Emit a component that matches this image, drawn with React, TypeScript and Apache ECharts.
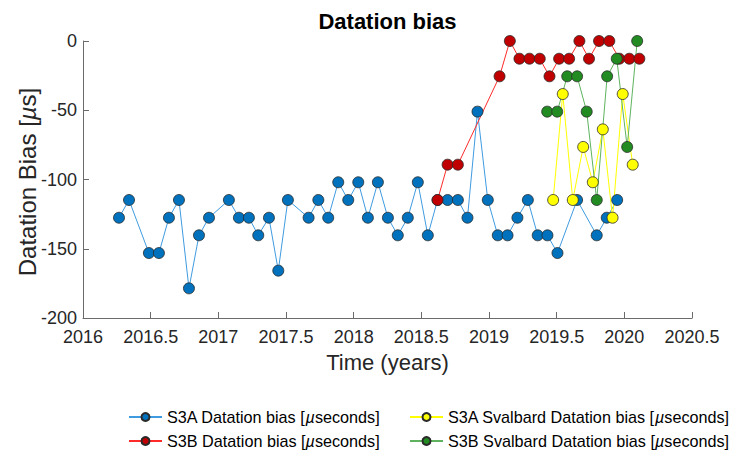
import React, { useEffect, useRef } from "react";
import * as echarts from "echarts";

const xTicks = [2016, 2016.5, 2017, 2017.5, 2018, 2018.5, 2019, 2019.5, 2020, 2020.5];
const yTicks = [-200, -150, -100, -50, 0];

const s3aDates = [
  2016.266, 2016.34, 2016.487, 2016.561, 2016.635, 2016.709, 2016.783, 2016.857, 2016.931,
  2017.078, 2017.152, 2017.226, 2017.295, 2017.374, 2017.443, 2017.514, 2017.667, 2017.739,
  2017.812, 2017.886, 2017.96, 2018.034, 2018.105, 2018.179, 2018.253, 2018.326, 2018.4,
  2018.474, 2018.548, 2018.62, 2018.694, 2018.77, 2018.841, 2018.915, 2018.991, 2019.065,
  2019.137, 2019.21, 2019.287, 2019.36, 2019.432, 2019.506, 2019.651, 2019.796, 2019.87,
  2019.947,
];
const s3aValues = [
  -127.6, -114.8, -153.1, -153.1, -127.6, -114.8, -178.6, -140.3, -127.6,
  -114.8, -127.6, -127.6, -140.3, -127.6, -165.8, -114.8, -127.6, -114.8,
  -127.6, -102.0, -114.8, -102.0, -127.6, -102.0, -127.6, -140.3, -127.6,
  -102.0, -140.3, -114.8, -114.8, -114.8, -127.6, -51.0, -114.8, -140.3,
  -140.3, -127.6, -114.8, -140.3, -140.3, -153.1, -114.8, -140.3, -127.6,
  -114.8,
];

const s3bDates = [
  2018.62, 2018.694, 2018.77, 2019.078, 2019.154, 2019.225, 2019.299, 2019.375, 2019.447,
  2019.518, 2019.592, 2019.668, 2019.739, 2019.813, 2019.889, 2019.963, 2020.037, 2020.111,
];
const s3bValues = [
  -114.8, -89.3, -89.3, -25.5, 0, -12.8, -12.8, -12.8, -25.5,
  -12.8, -12.8, 0, -12.8, 0, 0, -12.8, -12.8, -12.8,
];

const s3aSvalDates = [2019.474, 2019.545, 2019.619, 2019.696, 2019.767, 2019.841, 2019.913, 2019.988, 2020.062];
const s3aSvalValues = [-114.8, -38.3, -114.8, -76.5, -102.0, -63.8, -127.6, -38.3, -89.3];

const s3bSvalDates = [2019.43, 2019.504, 2019.578, 2019.651, 2019.722, 2019.796, 2019.873, 2019.944, 2020.021, 2020.095];
const s3bSvalValues = [-51.0, -51.0, -25.5, -25.5, -51.0, -114.8, -25.5, -12.8, -76.5, 0];

const names = [
  "S3A Datation bias [µseconds]",
  "S3B Datation bias [µseconds]",
  "S3A Svalbard Datation bias [µseconds]",
  "S3B Svalbard Datation bias [µseconds]",
];

const FONT = "'Liberation Sans', Arial, Helvetica, sans-serif";

function zip(xs: number[], ys: number[]) {
  return xs.map((x, i) => [x, ys[i]]);
}

function makeSeries(name: string, xs: number[], ys: number[], line: string, fill: string) {
  return {
    name,
    type: "line",
    data: zip(xs, ys),
    symbol: "circle",
    symbolSize: 11,
    showAllSymbol: true,
    lineStyle: { color: line, width: 1 },
    itemStyle: { color: fill, borderColor: "#2a2a2a", borderWidth: 0.8 },
    emphasis: { disabled: true },
  };
}

const LFS = 16.2;
const legendText = {
  fontSize: LFS,
  fontFamily: FONT,
  color: "#000",
  lineHeight: 18,
  rich: {
    a: { fontSize: LFS, fontFamily: FONT, color: "#000", lineHeight: 18 },
    b: { fontSize: LFS, fontFamily: FONT, color: "#000", fontStyle: "italic", lineHeight: 18 },
  },
};

function legendFormatter(name: string) {
  const parts = name.split("µ");
  return `{a|${parts[0]}}{b|µ}{a|${parts[1]}}`;
}

function makeLegend(name: string, left: number, top: number) {
  return {
    orient: "horizontal",
    left,
    top,
    itemWidth: 33,
    itemHeight: 10,
    padding: 0,
    data: [name],
    textStyle: legendText,
    formatter: legendFormatter,
    selectedMode: false,
  };
}

export default function App() {
  const ref = useRef<HTMLDivElement>(null);
  useEffect(() => {
    if (!ref.current) return;
    const chart = echarts.init(ref.current, undefined, { renderer: "svg" });
    chart.setOption({
      animation: false,
      backgroundColor: "#ffffff",
      grid: { left: 83, right: 42, top: 41, bottom: 134, containLabel: false },
      xAxis: {
        type: "value",
        min: xTicks[0],
        max: xTicks[xTicks.length - 1],
        interval: 0.5,
        axisLine: { show: true, onZero: false, lineStyle: { color: "#6b6b6b", width: 1 } },
        axisTick: { show: true, inside: true, length: 6, lineStyle: { color: "#6b6b6b" } },
        axisLabel: {
          color: "#262626",
          fontSize: 18,
          fontFamily: FONT,
          margin: 10,
          formatter: (v: number) => String(v),
        },
        splitLine: { show: false },
      },
      yAxis: {
        type: "value",
        min: yTicks[0],
        max: yTicks[yTicks.length - 1],
        interval: 50,
        axisLine: { show: true, onZero: false, lineStyle: { color: "#6b6b6b", width: 1 } },
        axisTick: { show: true, inside: true, length: 6, lineStyle: { color: "#6b6b6b" } },
        axisLabel: {
          color: "#262626",
          fontSize: 18,
          fontFamily: FONT,
          margin: 6,
          formatter: (v: number) => String(v),
        },
        splitLine: { show: false },
      },
      legend: [
        makeLegend(names[0], 128, 408),
        makeLegend(names[1], 128, 432),
        makeLegend(names[2], 409, 408),
        makeLegend(names[3], 409, 432),
      ],
      graphic: [
        {
          type: "text",
          x: 387.5,
          y: 21,
          style: {
            text: "Datation bias",
            fontSize: 22,
            fontWeight: "bold",
            fontFamily: FONT,
            fill: "#000",
            textAlign: "center",
            textVerticalAlign: "middle",
          },
        },
        {
          type: "text",
          x: 387.5,
          y: 362,
          style: {
            text: "Time (years)",
            fontSize: 22,
            fontFamily: FONT,
            fill: "#262626",
            textAlign: "center",
            textVerticalAlign: "middle",
          },
        },
        {
          type: "text",
          x: 27,
          y: 182,
          rotation: Math.PI / 2,
          style: {
            text: "{a|Datation Bias [}{b|µ}{a|s]}",
            rich: {
              a: { fontSize: 24, fontFamily: FONT, fill: "#262626" },
              b: { fontSize: 24, fontFamily: FONT, fill: "#262626", fontStyle: "italic" },
            },
            textAlign: "center",
            textVerticalAlign: "middle",
          },
        },
      ],
      series: [
        makeSeries(names[0], s3aDates, s3aValues, "#3f9be0", "#0072BD"),
        makeSeries(names[1], s3bDates, s3bValues, "#ff2a2a", "#C00000"),
        makeSeries(names[2], s3aSvalDates, s3aSvalValues, "#ffff00", "#ffff00"),
        makeSeries(names[3], s3bSvalDates, s3bSvalValues, "#5fb35f", "#228B22"),
      ],
    });
    return () => chart.dispose();
  }, []);
  return (
    <div
      ref={ref}
      style={{ position: "fixed", left: 0, top: 0, width: 734, height: 452, background: "#fff" }}
    />
  );
}
